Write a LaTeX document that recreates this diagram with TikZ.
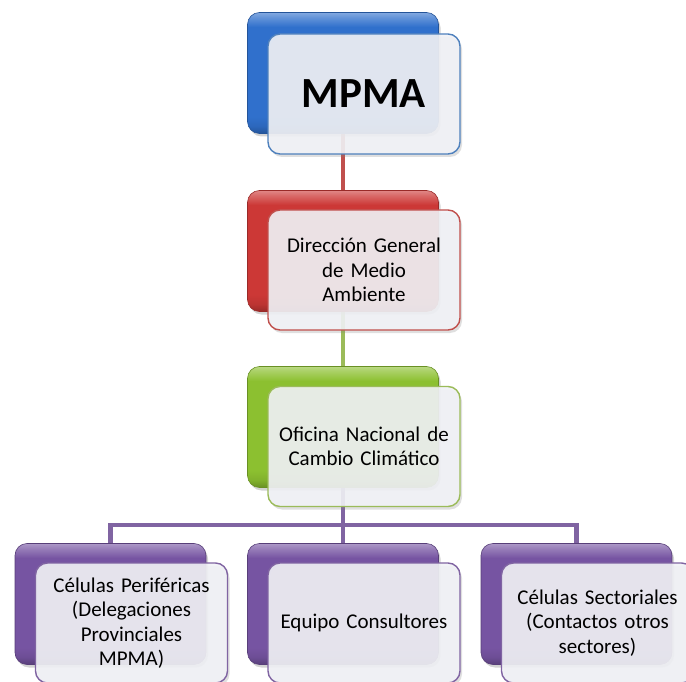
\documentclass[tikz,border=0pt]{standalone}
\usepackage{fontspec}
\setmainfont{Carlito}
\usetikzlibrary{shadows}
\pgfdeclarelayer{background}
\pgfsetlayers{background,main}
\definecolor{blueA}{RGB}{48,112,204}
\definecolor{redA}{RGB}{204,56,54}
\definecolor{greenA}{RGB}{140,192,48}
\definecolor{purpleA}{RGB}{118,84,162}
\definecolor{blueE}{RGB}{79,129,189}
\definecolor{redE}{RGB}{192,80,77}
\definecolor{greenE}{RGB}{155,187,89}
\definecolor{purpleE}{RGB}{128,100,162}
\definecolor{frontfill}{RGB}{241,242,246}
\newcommand{\mkbevel}[2]{%
  \pgfdeclareverticalshading{#1}{100bp}{%
    color(0bp)=(#2!75!black); color(25bp)=(#2!75!black); color(28bp)=(#2!92!black);
    color(32bp)=(#2); color(69bp)=(#2); color(73bp)=(#2!75!white);
    color(75bp)=(#2!60!white); color(100bp)=(#2!60!white)}}
\mkbevel{bevelblue}{blueA}
\mkbevel{bevelred}{redA}
\mkbevel{bevelgreen}{greenA}
\mkbevel{bevelpurple}{purpleA}
\tikzset{
  backbox/.style 2 args={minimum width=191pt, minimum height=121pt, rounded corners=12pt,
    draw=#1!75!black, line width=0.6pt, shading=#2,
    drop shadow={opacity=0.35, shadow xshift=2pt, shadow yshift=-3pt}},
  frontbox/.style={minimum width=192pt, minimum height=120pt, rounded corners=12pt,
    draw=#1, line width=1.4pt, fill=frontfill, fill opacity=0.9, text opacity=1,
    align=center, text width=180pt, font=\fontsize{21}{24.5}\selectfont,
    drop shadow={opacity=0.25, shadow xshift=2pt, shadow yshift=-3pt}},
  conn/.style={line width=4.5pt, draw=#1}
}
\begin{document}
\begin{tikzpicture}[x=1pt,y=-1pt]
\useasboundingbox (0,0) rectangle (686,682);
\clip (0,0) rectangle (686,682);
% back boxes
\node[backbox={blueA}{bevelblue}] (mpmaB) at (343,73) {};
\node[backbox={redA}{bevelred}] (dgB) at (343,251) {};
\node[backbox={greenA}{bevelgreen}] (oncB) at (343,427) {};
\node[backbox={purpleA}{bevelpurple}] (c1B) at (110.5,604) {};
\node[backbox={purpleA}{bevelpurple}] (c2B) at (343,604) {};
\node[backbox={purpleA}{bevelpurple}] (c3B) at (576.5,604) {};
\coordinate (bar) at (343,525);
% connectors
\begin{pgfonlayer}{background}
\draw[conn=redE] (mpmaB.center) -- (dgB.center);
\draw[conn=greenE] (dgB.center) -- (oncB.center);
\draw[conn=purpleE] (oncB.center) -- (bar);
\draw[conn=purpleE] (c1B.center) |- (bar) -| (c3B.center);
\draw[conn=purpleE] (bar) -- (c2B.center);
\end{pgfonlayer}
% front boxes
\node[frontbox=blueE, font=\fontsize{43}{46}\selectfont\bfseries] (mpma) at (364,94) {MPMA};
\node[frontbox=redE] (dg) at (364,270) {Dirección General\\de Medio\\Ambiente};
\node[frontbox=greenE] (onc) at (364,446.5) {Oficina Nacional de\\Cambio Climático};
\node[frontbox=purpleE] (c1) at (131.5,623) {Células Periféricas\\(Delegaciones\\Provinciales\\MPMA)};
\node[frontbox=purpleE] (c2) at (364,623) {Equipo Consultores};
\node[frontbox=purpleE] (c3) at (597.5,623) {Células Sectoriales\\(Contactos otros\\sectores)};
\end{tikzpicture}
\end{document}
